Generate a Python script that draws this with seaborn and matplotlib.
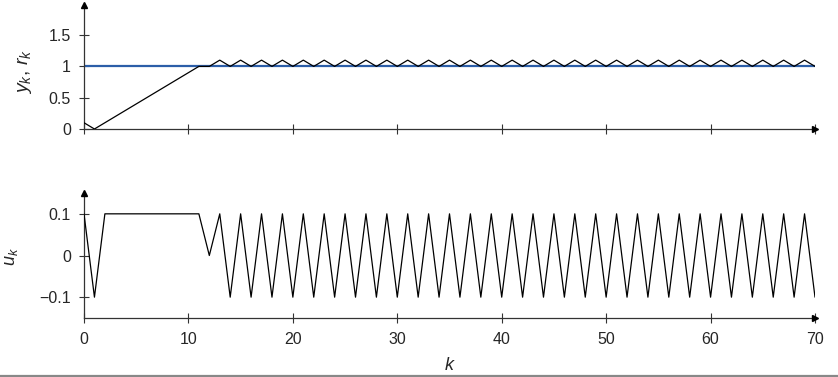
import matplotlib
matplotlib.use("Agg")
import matplotlib.pyplot as plt
import seaborn as sns
import pandas as pd
from matplotlib.lines import Line2D

# ---- data ----
k = list(range(71))
y_vals = [0.1, 0.0, 0.1, 0.2, 0.3, 0.4, 0.5, 0.6, 0.7, 0.8, 0.9, 1.0, 1.0,
          1.1, 1.0, 1.1, 1.0, 1.1, 1.0, 1.1, 1.0, 1.1, 1.0, 1.1, 1.0, 1.1, 1.0,
          1.1, 1.0, 1.1, 1.0, 1.1, 1.0, 1.1, 1.0, 1.1, 1.0, 1.1, 1.0, 1.1, 1.0,
          1.1, 1.0, 1.1, 1.0, 1.1, 1.0, 1.1, 1.0, 1.1, 1.0, 1.1, 1.0, 1.1, 1.0,
          1.1, 1.0, 1.1, 1.0, 1.1, 1.0, 1.1, 1.0, 1.1, 1.0, 1.1, 1.0, 1.1, 1.0,
          1.1, 1.0]
r_vals = [1.0] * 71
u_vals = [0.1, -0.1, 0.1, 0.1, 0.1, 0.1, 0.1, 0.1, 0.1, 0.1, 0.1, 0.1, 0.0,
          0.1, -0.1, 0.1, -0.1, 0.1, -0.1, 0.1, -0.1, 0.1, -0.1, 0.1, -0.1, 0.1, -0.1,
          0.1, -0.1, 0.1, -0.1, 0.1, -0.1, 0.1, -0.1, 0.1, -0.1, 0.1, -0.1, 0.1, -0.1,
          0.1, -0.1, 0.1, -0.1, 0.1, -0.1, 0.1, -0.1, 0.1, -0.1, 0.1, -0.1, 0.1, -0.1,
          0.1, -0.1, 0.1, -0.1, 0.1, -0.1, 0.1, -0.1, 0.1, -0.1, 0.1, -0.1, 0.1, -0.1,
          0.1, -0.1]
x_ticks = [0, 10, 20, 30, 40, 50, 60, 70]
top_yticks = [0, 0.5, 1, 1.5]
top_yticklabels = ["0", "0.5", "1", "1.5"]
bot_yticks = [-0.1, 0, 0.1]
bot_yticklabels = ["\u22120.1", "0", "0.1"]

df = pd.DataFrame({"k": k, "y": y_vals, "r": r_vals, "u": u_vals})

sns.set_style("white")
plt.rcParams["font.family"] = ["Liberation Sans", "DejaVu Sans"]
plt.rcParams["mathtext.fontset"] = "custom"
plt.rcParams["mathtext.it"] = "Liberation Sans:italic"
plt.rcParams["mathtext.rm"] = "Liberation Sans"
plt.rcParams["axes.unicode_minus"] = True

W, H = 838, 377
fig = plt.figure(figsize=(W / 100, H / 100), dpi=100)

x0, x1 = 84, 815
ax1 = fig.add_axes([x0 / W, 1 - 129 / H, (x1 - x0) / W, (129 - 5) / H])
ax2 = fig.add_axes([x0 / W, 1 - 318 / H, (x1 - x0) / W, (318 - 193) / H])

blue = "#2c5ea8"
spine_col = "#333333"

sns.lineplot(data=df, x="k", y="r", ax=ax1, color=blue, lw=1.6, zorder=2)
sns.lineplot(data=df, x="k", y="y", ax=ax1, color="black", lw=0.9, zorder=3)
sns.lineplot(data=df, x="k", y="u", ax=ax2, color="black", lw=0.9, zorder=3)

ax1.set_ylim(0, 124 / 62.6)
ax2.set_ylim(-0.15, 0.15)

for ax in (ax1, ax2):
    ax.set_xlim(0, 70)
    ax.set_xticks(x_ticks)
    for s in ("top", "right"):
        ax.spines[s].set_visible(False)
    for s in ("left", "bottom"):
        ax.spines[s].set_color(spine_col)
        ax.spines[s].set_linewidth(0.9)
    ax.tick_params(axis="both", direction="inout", length=7, width=0.8,
                   color=spine_col, labelsize=11.5, left=True, bottom=True)
    ax.tick_params(axis="y", pad=6)
    ax.tick_params(axis="x", pad=6.5)
    # arrows
    ax.plot(1, 0, marker=">", color="black", markersize=4.5, transform=ax.transAxes,
            clip_on=False, zorder=5)
    ax.plot(0, 1, marker="^", color="black", markersize=4.5, transform=ax.transAxes,
            clip_on=False, zorder=5)
    ax.set_facecolor("none")

ax1.set_yticks(top_yticks)
ax1.set_yticklabels(top_yticklabels)
ax1.tick_params(axis="x", labelbottom=False)
ax1.set_xlabel("")
ax1.set_ylabel(r"$y_k$, $r_k$", fontsize=14)
ax1.yaxis.set_label_coords(-0.068, 0.46)

ax2.set_yticks(bot_yticks)
ax2.set_yticklabels(bot_yticklabels)
ax2.set_ylabel(r"$u_k$", fontsize=13)
ax2.yaxis.set_label_coords(-0.088, 0.49)
ax2.set_xlabel(r"$k$", fontsize=13, labelpad=7)

fig.add_artist(Line2D([0, 1], [1 - 376 / H, 1 - 376 / H], color="#888888", lw=1.6,
                      transform=fig.transFigure))

fig.savefig("out.png", dpi=100)
